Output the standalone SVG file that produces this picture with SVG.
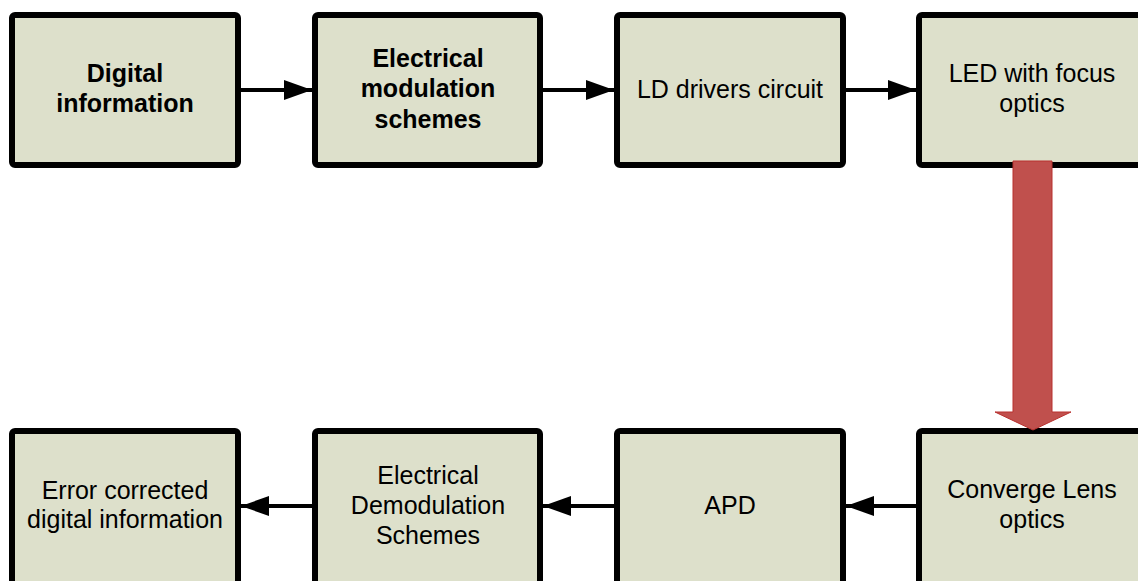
<svg xmlns="http://www.w3.org/2000/svg" width="1138" height="581" viewBox="0 0 1138 581">
<style>
.box{fill:#DDE0CB;stroke:#000;stroke-width:6;}
.t{font-family:"Liberation Sans",Arial,sans-serif;font-size:25px;fill:#000;text-anchor:middle;}
.b{font-weight:bold;}
.conn{stroke:#000;stroke-width:4;fill:none;}
</style>
<defs>
<marker id="ah" markerUnits="userSpaceOnUse" markerWidth="28" markerHeight="20" refX="28" refY="10" orient="auto">
<path d="M0,0 L28,10 L0,20 Z" fill="#000"/>
</marker>
</defs>
<rect width="1138" height="581" fill="#fff"/>
<g id="n1"><rect class="box" x="12" y="15" width="226" height="150" rx="3"/>
<text class="t b" x="125" y="82">Digital</text><text class="t b" x="125" y="112">information</text></g>
<g id="n2"><rect class="box" x="315" y="15" width="225" height="150" rx="3"/>
<text class="t b" x="428" y="67">Electrical</text><text class="t b" x="428" y="97">modulation</text><text class="t b" x="428" y="128">schemes</text></g>
<g id="n3"><rect class="box" x="617" y="15" width="226" height="150" rx="3"/>
<text class="t" x="730" y="98">LD drivers circuit</text></g>
<g id="n4"><rect class="box" x="919" y="15" width="226" height="150" rx="3"/>
<text class="t" x="1032" y="82">LED with focus</text><text class="t" x="1032" y="112">optics</text></g>
<g id="n5"><rect class="box" x="919" y="431" width="226" height="153" rx="3"/>
<text class="t" x="1032" y="498">Converge Lens</text><text class="t" x="1032" y="528">optics</text></g>
<g id="n6"><rect class="box" x="617" y="431" width="226" height="153" rx="3"/>
<text class="t" x="730" y="514">APD</text></g>
<g id="n7"><rect class="box" x="315" y="431" width="225" height="153" rx="3"/>
<text class="t" x="428" y="484">Electrical</text><text class="t" x="428" y="514">Demodulation</text><text class="t" x="428" y="544">Schemes</text></g>
<g id="n8"><rect class="box" x="12" y="431" width="226" height="153" rx="3"/>
<text class="t" x="125" y="499">Error corrected</text><text class="t" x="125" y="528">digital information</text></g>
<g id="connectors">
<line class="conn" x1="241" y1="90" x2="312" y2="90" marker-end="url(#ah)"/>
<line class="conn" x1="543" y1="90" x2="614" y2="90" marker-end="url(#ah)"/>
<line class="conn" x1="846" y1="90" x2="916" y2="90" marker-end="url(#ah)"/>
<line class="conn" x1="916" y1="506" x2="846" y2="506" marker-end="url(#ah)"/>
<line class="conn" x1="614" y1="506" x2="543" y2="506" marker-end="url(#ah)"/>
<line class="conn" x1="312" y1="506" x2="241" y2="506" marker-end="url(#ah)"/>
<path d="M1013,161 L1052,161 L1052,412 L1071,412 L1033,430 L995,412 L1013,412 Z" fill="#C0504D" stroke="#B8312F" stroke-width="1"/>
</g>
</svg>
